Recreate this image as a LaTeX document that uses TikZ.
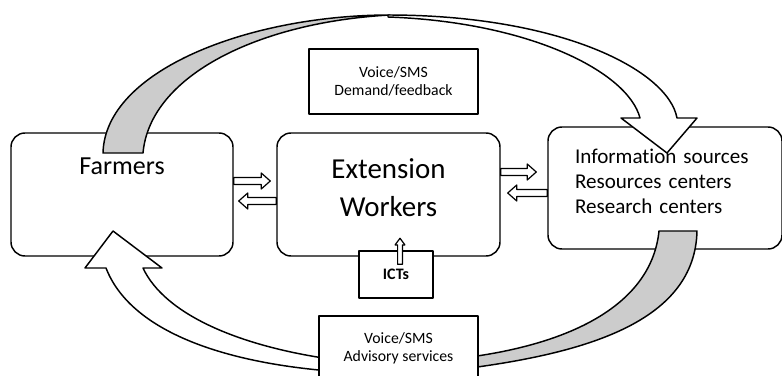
\documentclass[tikz,border=0pt]{standalone}
\usepackage{fontspec}
\setmainfont{Carlito}[Ligatures=CommonOff]
\usetikzlibrary{positioning, calc}

\begin{document}
\begin{tikzpicture}[x=0.75pt, y=-0.75pt, line width=1.1pt, line join=round]
        % Define block styles
        \tikzstyle{roundbox} = [rectangle, draw, rounded corners=10.5pt, inner sep=0pt, minimum height=92.25pt]
        \tikzstyle{plainbox} = [rectangle, draw, fill=white, inner sep=0pt, align=center, font=\fontsize{11.8}{13.5}\selectfont]
        \tikzstyle{bandgrey} = [draw, fill=gray!40]
        \tikzstyle{bandwhite} = [draw, fill=white]
        % hollow block arrow: half shaft, half head, head length
        \tikzset{hollow/.style n args={3}{draw, fill=white, line width=0.9pt, to path={
            ($(\tikztostart)!#1!90:(\tikztotarget)$)
            -- ($($(\tikztotarget)!#3!(\tikztostart)$)!#1!90:(\tikztotarget)$)
            -- ($($(\tikztotarget)!#3!(\tikztostart)$)!#2!90:(\tikztotarget)$)
            -- (\tikztotarget)
            -- ($($(\tikztotarget)!#3!(\tikztostart)$)!#2!-90:(\tikztotarget)$)
            -- ($($(\tikztotarget)!#3!(\tikztostart)$)!#1!-90:(\tikztotarget)$)
            -- ($(\tikztostart)!#1!-90:(\tikztotarget)$) -- cycle}}}

        \useasboundingbox (0,0) rectangle (782,375);

        % Define nodes
        \node [roundbox, minimum width=166.5pt,
               label={[anchor=base, yshift=-31.5pt, font=\fontsize{19.5}{23}\selectfont]north:Farmers}] (farmers) at (122,194.5) {};
        \node [roundbox, minimum width=167.25pt, align=center, text depth=11pt, font=\fontsize{21.7}{28.5}\selectfont] (ext) at (388.5,194.5) {Extension\\Workers};
        \node [roundbox, minimum height=91.5pt, text width=135pt, inner xsep=20.25pt, align=left, text depth=48pt, font=\fontsize{15.8}{19}\selectfont] (info) at (665,188) {Information sources\\Resources centers\\Research centers};

        % Curved block arrows
        \path [bandgrey] (103,153) .. controls (105,70) and (250,15) .. (390,15)
              .. controls (260,22) and (150,75) .. (143,153) -- cycle;
        \path [bandwhite] (388,15) .. controls (560,15) and (668,70) .. (677,118)
              -- (697,118) -- (667,153) -- (621,118) -- (640,118)
              .. controls (628,72) and (530,22) .. (388,17) -- cycle;
        \path [bandgrey] (697,231) .. controls (695,320) and (590,352) .. (470,368)
              -- (470,357) .. controls (580,342) and (652,300) .. (659,231) -- cycle;
        \path [bandwhite] (330,371) .. controls (220,362) and (130,330) .. (106,268)
              -- (85,268) -- (113,231) -- (162,268) -- (143,268)
              .. controls (165,315) and (240,346) .. (330,359) -- cycle;

        \node [plainbox, minimum width=126.75pt, minimum height=48.75pt] (demand) at (393.5,81.5) {Voice/SMS\\Demand/feedback};
        \node [plainbox, minimum width=119.25pt, minimum height=48pt] (advisory) at (398.5,348) {Voice/SMS\\Advisory services};
        \node [plainbox, minimum width=55.5pt, minimum height=35.25pt, font=\fontsize{12}{14}\selectfont\bfseries] (icts) at (396,274.5) {ICTs};

        % Arrow ends
        \coordinate (fe1) at ($(farmers.east)+(0,-13.5)$);
        \coordinate (fe2) at ($(ext.west)+(-6,-13.5)$);
        \coordinate (ef1) at ($(ext.west)+(0,6.5)$);
        \coordinate (ef2) at ($(farmers.east)+(5,6.5)$);
        \coordinate (ei1) at ($(ext.east)+(0,-22.5)$);
        \coordinate (ei2) at ($(info.west)+(-11,-16)$);
        \coordinate (ie1) at ($(info.west)+(0,5)$);
        \coordinate (ie2) at ($(ext.east)+(7,-1.5)$);
        \coordinate (ic1) at ($(icts.north)+(4,14)$);
        \coordinate (ic2) at ($(ext.south)+(11.5,-18.5)$);

        % Connect nodes with paths
        \path [hollow={2.6pt}{6pt}{6.75pt}] (fe1) to (fe2);
        \path [hollow={2.6pt}{6pt}{6.75pt}] (ef1) to (ef2);
        \path [hollow={2.6pt}{6pt}{6.75pt}] (ei1) to (ei2);
        \path [hollow={2.6pt}{6pt}{6.75pt}] (ie1) to (ie2);
        \path [hollow={1.8pt}{3.7pt}{5pt}] (ic1) to (ic2);

    \end{tikzpicture}
\end{document}
